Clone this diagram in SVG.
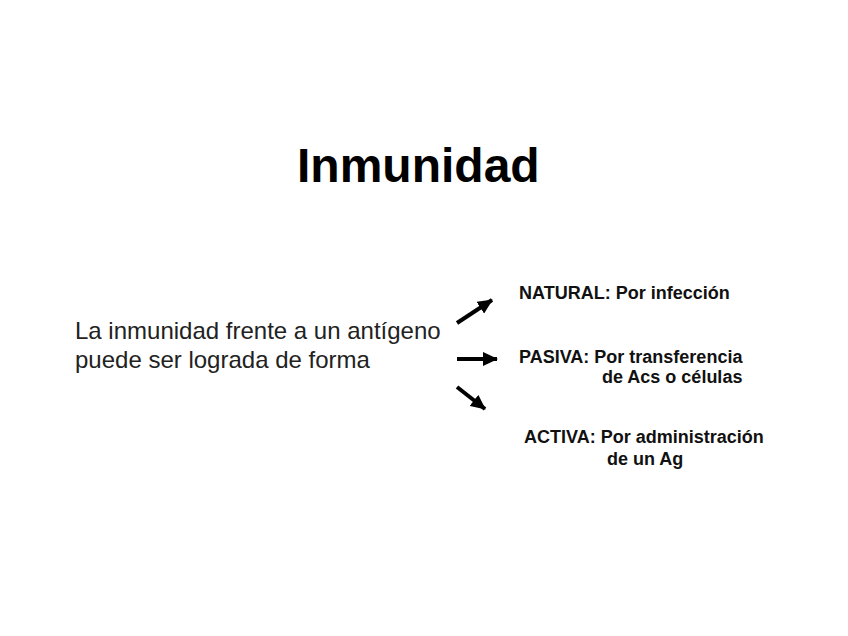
<svg xmlns="http://www.w3.org/2000/svg" width="848" height="636" viewBox="0 0 848 636">
<style>
.title{font-family:"Liberation Sans",Arial,sans-serif;font-weight:bold;font-size:48px;fill:#000}
.body{font-family:"Liberation Sans",Arial,sans-serif;font-size:24px;fill:#222}
.lbl{font-family:"Liberation Sans",Arial,sans-serif;font-weight:bold;font-size:18px;fill:#111}
.arr{stroke:#000;stroke-width:4;fill:none;marker-end:url(#ah)}
</style>
<defs>
<marker id="ah" markerUnits="userSpaceOnUse" markerWidth="16" markerHeight="14" refX="14" refY="7" orient="auto">
<path d="M0,0 L15,7 L0,14 Z" fill="#000"/>
</marker>
</defs>
<rect width="848" height="636" fill="#fff"/>
<g id="title"><text class="title" x="297" y="182">Inmunidad</text></g>
<g id="source">
<text class="body" x="75" y="339">La inmunidad frente a un antígeno</text>
<text class="body" x="75" y="368">puede ser lograda de forma</text>
</g>
<g id="connectors">
<line class="arr" x1="457" y1="323" x2="492" y2="300"/>
<line class="arr" x1="457" y1="359" x2="497" y2="359"/>
<line class="arr" x1="457" y1="387" x2="485" y2="409"/>
</g>
<g id="natural"><text class="lbl" x="519" y="299">NATURAL: Por infección</text></g>
<g id="pasiva">
<text class="lbl" x="519" y="363">PASIVA: Por transferencia</text>
<text class="lbl" x="602" y="383">de Acs o células</text>
</g>
<g id="activa">
<text class="lbl" x="524" y="443">ACTIVA: Por administración</text>
<text class="lbl" x="607" y="465">de un Ag</text>
</g>
</svg>
